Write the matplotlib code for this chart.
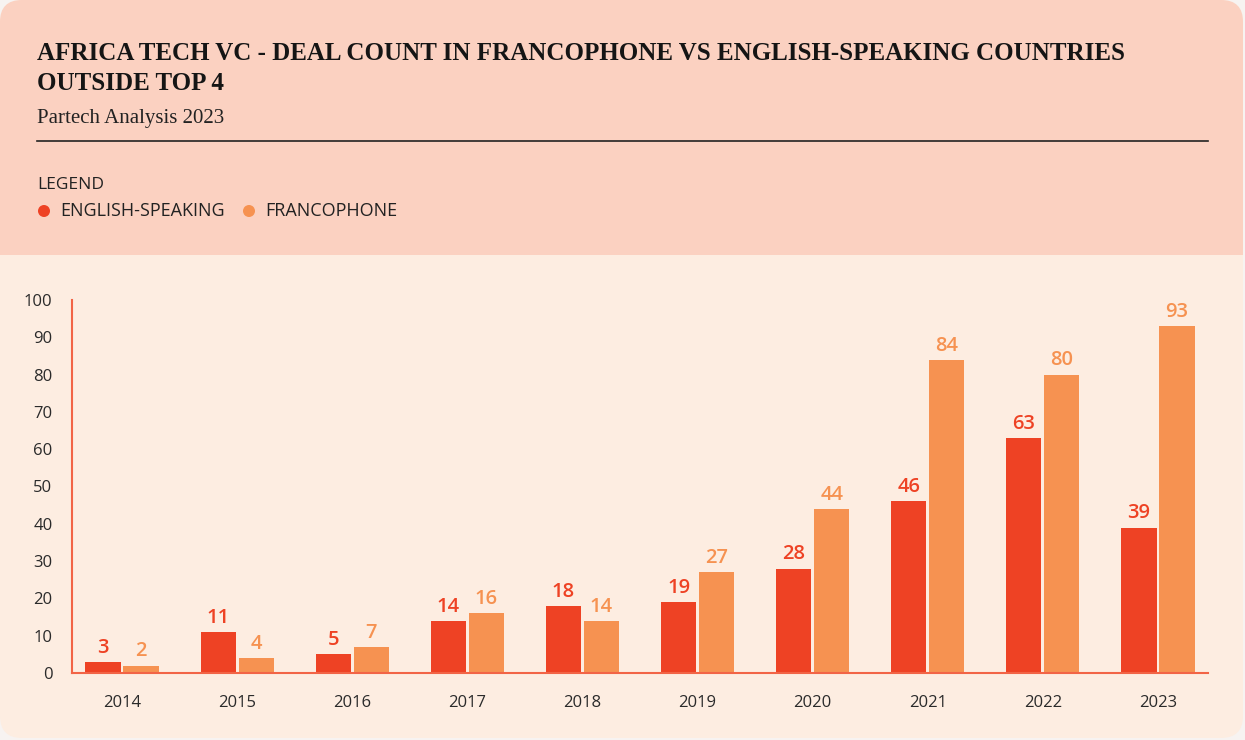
import numpy as np
import matplotlib.pyplot as plt
from matplotlib.patches import FancyBboxPatch, Rectangle, Circle

# data #
years = ['2014', '2015', '2016', '2017', '2018', '2019', '2020', '2021', '2022', '2023']
english = [3, 11, 5, 14, 18, 19, 28, 46, 63, 39]
franco = [2, 4, 7, 16, 14, 27, 44, 84, 80, 93]
yticks = [0, 10, 20, 30, 40, 50, 60, 70, 80, 90, 100]

# colours #
c_eng = '#EE4224'
c_fra = '#F69251'
c_head = '#FBD1C1'
c_body = '#FDEDE1'
c_axis = '#F26446'

W, H = 1245, 740
fig = plt.figure(figsize=(W / 100, H / 100), dpi=100)
fig.patch.set_facecolor('#F7F3F1')

# card background #
bg = fig.add_axes([0, 0, 1, 1])
bg.set_xlim(0, W)
bg.set_ylim(H, 0)
bg.axis('off')
bg.add_patch(FancyBboxPatch((0, 0), W - 2, H - 2, boxstyle='round,pad=0,rounding_size=22',
                            fc=c_body, ec='none'))
bg.add_patch(FancyBboxPatch((0, 0), W - 2, 255, boxstyle='round,pad=0,rounding_size=22',
                            fc=c_head, ec='none'))
bg.add_patch(Rectangle((0, 200), W - 2, 55, fc=c_head, ec='none'))

serif = ['Liberation Serif', 'DejaVu Serif']
sans = ['Open Sans', 'DejaVu Sans']
bg.text(37, 54, 'AFRICA TECH VC - DEAL COUNT IN FRANCOPHONE VS ENGLISH-SPEAKING COUNTRIES',
        family=serif, weight='bold', fontsize=18, color='#151515', va='center')
bg.text(37, 83, 'OUTSIDE TOP 4', family=serif, weight='bold', fontsize=18,
        color='#151515', va='center')
bg.text(37, 118, 'Partech Analysis 2023', family=serif, fontsize=15, color='#222222', va='center')
bg.plot([37, 1208], [141, 141], color='#222222', lw=1.2)

bg.text(37, 185, 'LEGEND', family=sans, fontsize=12.5, color='#222222', va='center')
bg.add_patch(Circle((44, 211), 6, fc=c_eng, ec='none'))
bg.text(60, 211, 'ENGLISH-SPEAKING', family=sans, fontsize=13, color='#222222', va='center')
bg.add_patch(Circle((249, 211), 6, fc=c_fra, ec='none'))
bg.text(265, 211, 'FRANCOPHONE', family=sans, fontsize=13, color='#222222', va='center')

# chart #
ax = fig.add_axes([72 / W, 67 / H, (1208 - 72) / W, (673 - 300) / H])
ax.set_facecolor('none')
x = np.arange(len(years))
w = 0.305
off = 0.165
ax.bar(x - off, english, w, color=c_eng)
ax.bar(x + off, franco, w, color=c_fra)
for xi, v in zip(x, english):
    ax.annotate(str(v), (xi - off, v), xytext=(0, 3), textcoords='offset points',
                ha='center', va='bottom', color=c_eng, fontsize=14.5, weight='semibold', family=sans)
for xi, v in zip(x, franco):
    ax.annotate(str(v), (xi + off, v), xytext=(0, 3), textcoords='offset points',
                ha='center', va='bottom', color=c_fra, fontsize=14.5, weight='semibold', family=sans)

ax.set_xlim(-0.434, len(years) - 1 + 0.434)
ax.set_ylim(0, 100)
ax.set_yticks(yticks)
ax.set_xticks(x)
ax.set_xticklabels(years)
ax.tick_params(length=0, labelsize=12, labelcolor='#2a2a2a')
ax.tick_params(axis='y', pad=14)
ax.tick_params(axis='x', pad=16)
for lab in ax.get_xticklabels() + ax.get_yticklabels():
    lab.set_family(sans)
for s in ['top', 'right']:
    ax.spines[s].set_visible(False)
for s in ['left', 'bottom']:
    ax.spines[s].set_color(c_axis)
    ax.spines[s].set_linewidth(1.5)

fig.savefig('out.png', dpi=100, facecolor=fig.get_facecolor())
